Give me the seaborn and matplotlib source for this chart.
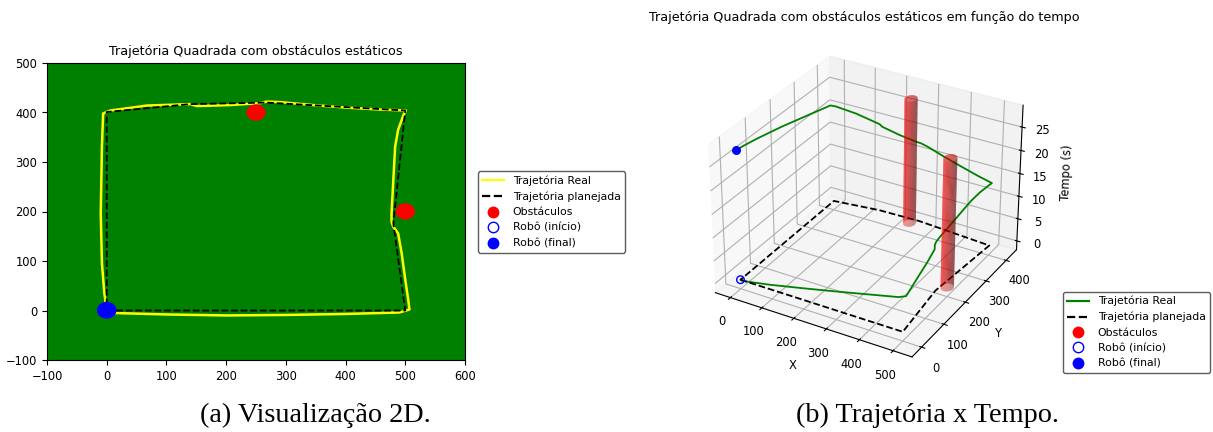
import numpy as np
import pandas as pd
import matplotlib
matplotlib.use("Agg")
import matplotlib.pyplot as plt
import seaborn as sns
from matplotlib.patches import Circle
from matplotlib.lines import Line2D

# ---------------- data ----------------
real_x = [0, 10, 100, 200, 300, 400, 490, 507, 505, 500, 494, 488, 480, 477, 477,
          480, 483, 488, 497, 501, 458, 400, 346, 290, 268, 257, 206, 151, 140, 67,
          6, -6, -8, -10, -8, -4, 0]
real_y = [0, -5, -8, -10, -9, -7, -4, 2, 21, 62, 115, 156, 169, 179, 196,
          264, 331, 365, 395, 404, 406, 410, 415, 421, 422, 419, 415, 413, 417, 414,
          404, 398, 331, 196, 95, 35, 1]
real_t = [0.0, 0.2, 1.5, 3.1, 4.6, 6.1, 7.4, 7.7, 8.0, 8.6, 9.4, 10.1, 10.3, 10.4, 10.7,
          11.7, 12.7, 13.2, 13.7, 13.9, 14.5, 15.4, 16.2, 17.1, 17.4, 17.6, 18.3, 19.2, 19.4, 20.5,
          21.4, 21.6, 22.6, 24.7, 26.2, 27.1, 27.6]
plan_x = [0, 500, 480, 500, 268, 140, 0, 0]
plan_y = [0, 0, 176, 404, 420, 417, 401, 0]
obs_x = [250, 500]
obs_y = [400, 200]
obs_height = 27.6
start_x, start_y, start_t = 0, 0, 0.0
end_x, end_y, end_t = 0, 1, 27.6

title_2d = "Trajetória Quadrada com obstáculos estáticos"
title_3d = "Trajetória Quadrada com obstáculos estáticos em função do tempo"
labels = ["Trajetória Real", "Trajetória planejada", "Obstáculos",
          "Robô (início)", "Robô (final)"]
captions = ["(a) Visualização 2D.", "(b) Trajetória x Tempo."]

# ---------------- styles ----------------
R = 15
R3 = 17
W, H = 1213, 432
TICK = 8.3
plt.rcParams["axes.unicode_minus"] = True

fig = plt.figure(figsize=(W / 100, H / 100), dpi=100)

# ---------------- 2D plot ----------------
ax = fig.add_axes([47 / W, (H - 360) / H, 418 / W, 297 / H])
ax.set_facecolor("green")
df_real = pd.DataFrame({"x": real_x, "y": real_y})
df_plan = pd.DataFrame({"x": plan_x, "y": plan_y})
sns.lineplot(data=df_real, x="x", y="y", sort=False, estimator=None,
             color="yellow", lw=1.8, ax=ax, legend=False)
sns.lineplot(data=df_plan, x="x", y="y", sort=False, estimator=None,
             color="black", lw=1.3, ax=ax, legend=False)
ax.lines[1].set_linestyle("--")
for ox, oy in zip(obs_x, obs_y):
    ax.add_patch(Circle((ox, oy), R, color="red", zorder=3))
ax.add_patch(Circle((start_x, start_y), R, fill=False, ec="blue", zorder=3))
ax.add_patch(Circle((end_x, end_y), R, color="blue", zorder=4))
ax.set_xlim(-100, 600)
ax.set_ylim(-100, 500)
ax.set_xlabel("")
ax.set_ylabel("")
ax.tick_params(labelsize=TICK)
ax.set_title(title_2d, fontsize=9.2)

def handles(real_color):
    return [
        Line2D([], [], color=real_color, lw=1.6),
        Line2D([], [], color="black", ls="--", lw=1.6),
        Line2D([], [], marker="o", color="red", ls="none", ms=7.5),
        Line2D([], [], marker="o", mfc="none", mec="blue", ls="none", ms=7.5),
        Line2D([], [], marker="o", color="blue", ls="none", ms=7.5),
    ]

fig.legend(handles("yellow"), labels, loc="center left",
           bbox_to_anchor=(478 / W, (H - 212) / H), borderaxespad=0,
           fontsize=7.8, edgecolor="#333333", fancybox=True)

# ---------------- 3D plot ----------------
S = 350
ax3 = fig.add_axes([(864 - S / 2) / W, (H - 29 - S) / H, S / W, S / H],
                   projection="3d")
ax3.plot(real_x, real_y, real_t, color="green", lw=1.3)
ax3.plot(plan_x, plan_y, np.zeros(len(plan_x)), color="black", ls="--", lw=1.3)
theta = np.linspace(0, 2 * np.pi, 40)
zz = np.linspace(0, obs_height, 2)
TH, ZZ = np.meshgrid(theta, zz)
rr = np.linspace(0, R3, 2)
TH2, RR = np.meshgrid(theta, rr)
for ox, oy in zip(obs_x, obs_y):
    ax3.plot_surface(ox + R3 * np.cos(TH), oy + R3 * np.sin(TH), ZZ,
                     color="red", alpha=0.45, linewidth=0)
    ax3.plot_surface(ox + RR * np.cos(TH2), oy + RR * np.sin(TH2),
                     np.full_like(RR, obs_height), color="red", alpha=0.3,
                     linewidth=0)
ax3.scatter([start_x], [start_y], [start_t], s=30, facecolors="none",
            edgecolors="blue", depthshade=False)
ax3.scatter([end_x], [end_y], [end_t], s=30, color="blue", depthshade=False)
ax3.set_xlabel("X", fontsize=TICK, labelpad=0)
ax3.set_ylabel("Y", fontsize=TICK, labelpad=0)
ax3.set_zlabel("Tempo (s)", fontsize=TICK, labelpad=0)
ax3.tick_params(labelsize=TICK, pad=1)
ax3.set_title(title_3d, fontsize=9.2)

fig.legend(handles("green"), labels, loc="lower left",
           bbox_to_anchor=(1063 / W, (H - 373) / H), borderaxespad=0,
           fontsize=7.8, edgecolor="#333333", fancybox=True)

# ---------------- captions ----------------
fig.text(315 / W, (H - 415) / H, captions[0], ha="center", va="center",
         family="Liberation Serif", fontsize=20.3)
fig.text(928 / W, (H - 415) / H, captions[1], ha="center", va="center",
         family="Liberation Serif", fontsize=20.3)

fig.savefig("out.png", dpi=100)
